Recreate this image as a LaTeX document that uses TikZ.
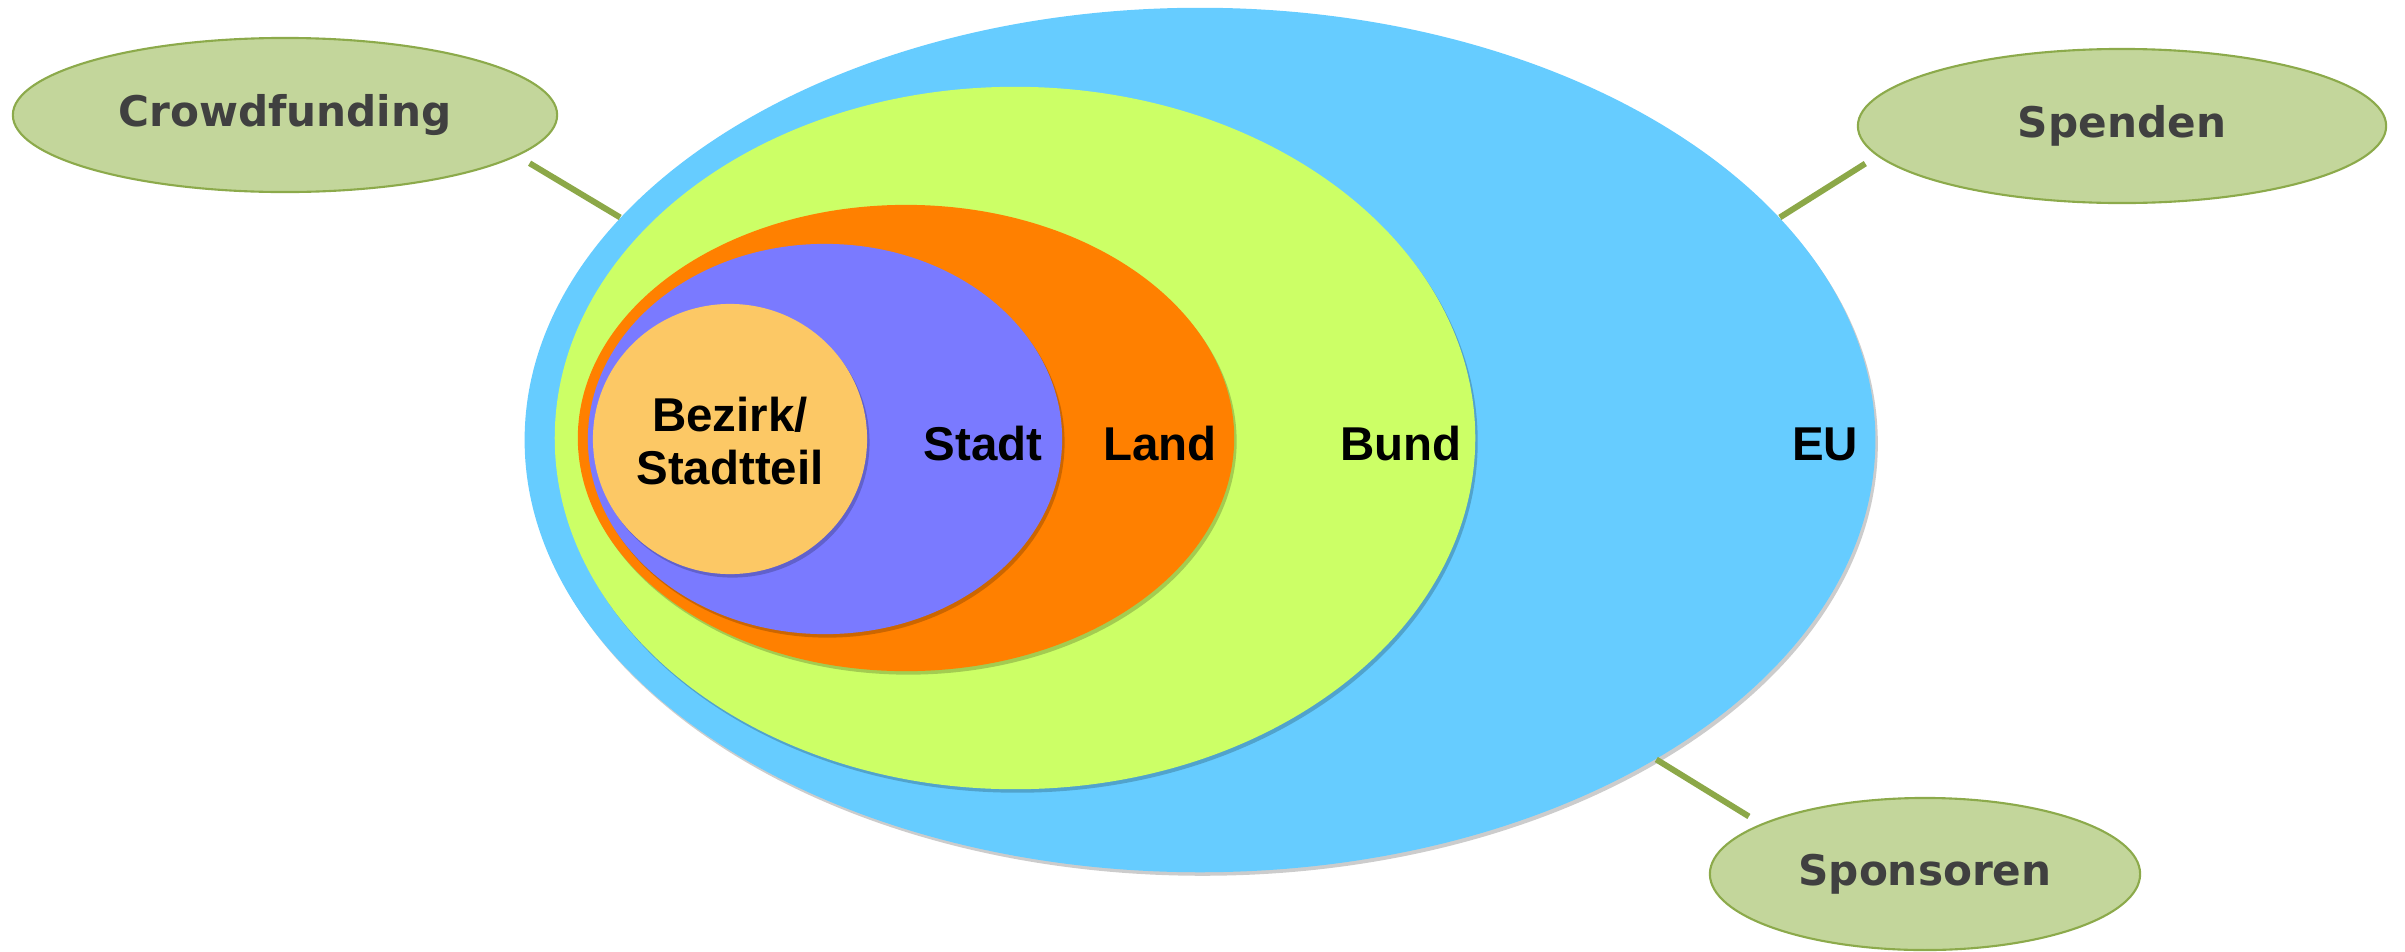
\documentclass[tikz,border=0pt]{standalone}
\usepackage{fontspec}
\usetikzlibrary{shapes.geometric,shadows}
\newfontfamily\calloutfont{DejaVu Sans}
\newfontfamily\levelfont{Liberation Sans}
\definecolor{euBlue}{RGB}{102,204,255}
\definecolor{bundGreen}{RGB}{204,255,102}
\definecolor{landOrange}{RGB}{255,128,0}
\definecolor{stadtViolet}{RGB}{122,122,255}
\definecolor{bezirkYellow}{RGB}{252,200,101}
\definecolor{calloutFill}{RGB}{195,214,155}
\definecolor{calloutLine}{RGB}{140,170,75}
\definecolor{calloutText}{RGB}{64,64,64}
\definecolor{linkGreen}{RGB}{140,168,72}
\tikzset{
  level/.style={ellipse, inner sep=0pt, fill=#1,
    drop shadow={shadow xshift=.7pt, shadow yshift=-1pt, opacity=.2, fill=black}},
  levellabel/.style={font=\levelfont\bfseries\fontsize{13.5}{15}\selectfont, text=black, align=center, inner sep=0pt},
  callout/.style={ellipse, inner sep=0pt, fill=calloutFill, draw=calloutLine, line width=.6pt,
    text=calloutText, font=\calloutfont\bfseries\fontsize{12}{14}\selectfont},
  link/.style={draw=linkGreen, line width=1.7pt, shorten <=4pt}
}
\begin{document}
\begin{tikzpicture}[x=0.01cm, y=-0.01cm]
  \useasboundingbox (0,0) rectangle (2405,951);
  % nested levels
  \node[level=euBlue, minimum width=13.5cm, minimum height=8.64cm] (eu) at (1200,440) {};
  \node[level=bundGreen, minimum width=9.2cm, minimum height=7.02cm] (bund) at (1015,438) {};
  \node[level=landOrange, minimum width=6.56cm, minimum height=4.66cm] (land) at (906,438) {};
  \node[level=stadtViolet, minimum width=4.74cm, minimum height=3.9cm] (stadt) at (825,439) {};
  \node[level=bezirkYellow, minimum width=2.74cm, minimum height=2.7cm] (bezirk) at (730,439) {};
  \node[levellabel] (lbBezirk) at (730,441) {Bezirk/\\Stadtteil};
  \node[levellabel] (lbStadt) at (983,444) {Stadt};
  \node[levellabel] (lbLand) at (1160,444) {Land};
  \node[levellabel] (lbBund) at (1401,444) {Bund};
  \node[levellabel] (lbEU) at (1825,444) {EU};
  % funding sources
  \node[callout, minimum width=5.44cm, minimum height=1.54cm] (crowd) at (285,115) {Crowdfunding};
  \node[callout, minimum width=5.28cm, minimum height=1.54cm] (spenden) at (2122,126) {Spenden};
  \node[callout, minimum width=4.3cm, minimum height=1.52cm] (sponsoren) at (1925,874) {Sponsoren};
  \draw[link] (crowd.-10) -- (eu.159);
  \draw[link] (spenden.-173) -- (eu.21);
  \draw[link] (sponsoren.163) -- (eu.-35);
\end{tikzpicture}
\end{document}
